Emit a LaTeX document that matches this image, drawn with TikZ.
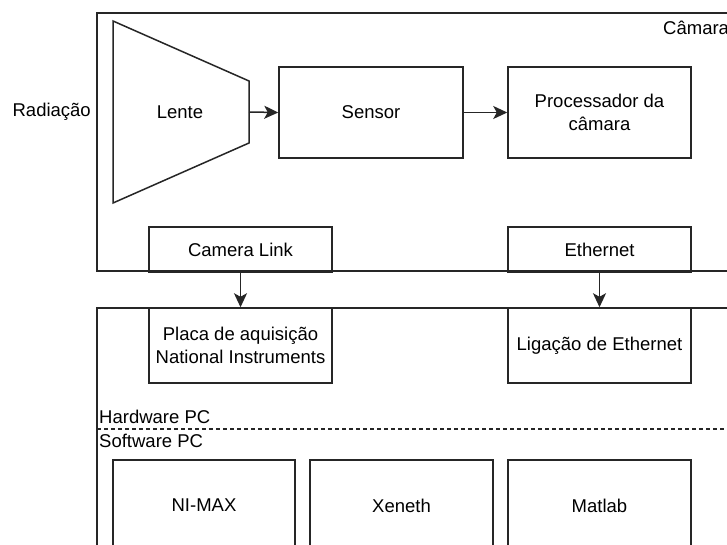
\documentclass[tikz,border=0pt]{standalone}
\usepackage{fontspec}
\setmainfont{Liberation Sans}
\usetikzlibrary{arrows.meta}
\tikzset{
  ln/.style={line width=1.5pt, draw=black!85},
  boxx/.style={ln, rectangle, inner sep=0pt, align=center, font=\fontsize{18.5}{23}\selectfont},
  txt/.style={inner sep=0pt, font=\fontsize{18.5}{23}\selectfont},
  arr/.style={ln, -{Stealth[length=14pt,width=13pt,inset=3.5pt]}},
}
\begin{document}
\begin{tikzpicture}[x=1pt,y=-1pt]
\useasboundingbox (0,0) rectangle (727,545);
\clip (0,0) rectangle (727,545);
\fill[white] (0,0) rectangle (727,545);
% outer containers
\draw[ln] (740,13) -- (97,13) -- (97,271) -- (740,271);
\node[txt, anchor=west] (camlabel) at (663,28) {Câmara};
\draw[ln] (740,308) -- (97,308) -- (97,560);
% lens
\draw[ln] (113,21) -- (249,81) -- (249,143) -- (113,203) -- cycle;
\node[txt] (lente) at (180,112) {Lente};
\coordinate (lr) at (249,112);
\node[txt, anchor=east] (rad) at (91,112) {Radiação};
% camera boxes
\node[boxx, minimum width=184pt, minimum height=91pt] (sensor) at (371,112.5) {Sensor};
\node[boxx, minimum width=183pt, minimum height=91pt] (proc) at (599.5,112.5) {Processador da\\câmara};
\draw[arr] (lr) -- (sensor.west);
\draw[arr] (sensor.east) -- (proc.west);
% interface boxes
\node[boxx, minimum width=183pt, minimum height=45pt] (cl) at (240.5,249.5) {Camera Link};
\node[boxx, minimum width=183pt, minimum height=45pt] (eth) at (599.5,249.5) {Ethernet};
\node[boxx, minimum width=183pt, minimum height=75pt] (placa) at (240.5,345.5) {Placa de aquisição\\National Instruments};
\node[boxx, minimum width=183pt, minimum height=75pt] (lig) at (599.5,345.5) {Ligação de Ethernet};
\draw[arr] (cl.south) -- (placa.north);
\draw[arr] (eth.south) -- (lig.north);
% hardware/software split
\coordinate (dl) at (97,429);
\coordinate (dr) at (740,429);
\draw[ln, line width=1.1pt, dash pattern=on 4pt off 3pt] (dl) -- (dr);
\node[txt, anchor=west] (hw) at (99,417) {Hardware PC};
\node[txt, anchor=west] (sw) at (99,441) {Software PC};
% software boxes
\node[boxx, minimum width=182pt, minimum height=91pt] (nimax) at (204,505.5) {NI-MAX};
\node[boxx, minimum width=183pt, minimum height=91pt] (xen) at (401.5,505.5) {Xeneth};
\node[boxx, minimum width=183pt, minimum height=91pt] (mat) at (599.5,505.5) {Matlab};
\end{tikzpicture}
\end{document}
